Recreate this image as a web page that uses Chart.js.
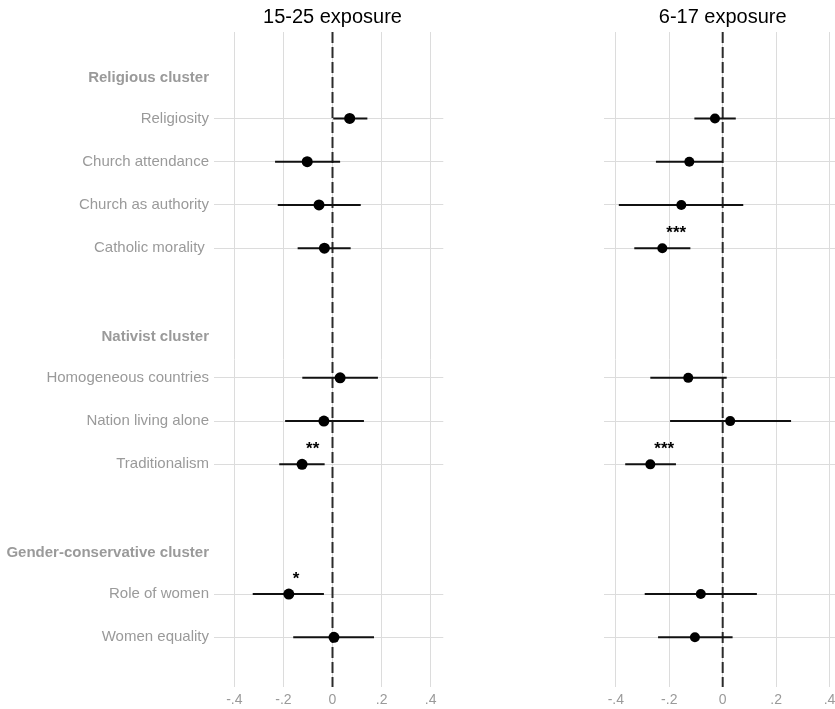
<!DOCTYPE html>
<html>
<head>
<meta charset="utf-8">
<script src="https://cdn.jsdelivr.net/npm/chart.js@4/dist/chart.umd.min.js"></script>
<style>
  html, body { margin: 0; padding: 0; background: #fff; overflow: hidden; }
  .panel { position: absolute; top: 0; height: 709px; }
</style>
</head>
<body>
<div class="panel" style="left:0;width:455px"><canvas id="left"></canvas></div>
<div class="panel" style="left:590px;width:260px"><canvas id="right"></canvas></div>
<script>
// Row layout of the y axis (top to bottom); blank strings are spacer rows
const rowLabels = [
  "Religious cluster", "Religiosity", "Church attendance", "Church as authority", "Catholic morality ",
  "",
  "Nativist cluster", "Homogeneous countries", "Nation living alone", "Traditionalism",
  "",
  "Gender-conservative cluster", "Role of women", "Women equality"
];
const clusterRows = ["Religious cluster", "Nativist cluster", "Gender-conservative cluster"];

// Outcome variables with estimates
const variables = [
  "Religiosity", "Church attendance", "Church as authority", "Catholic morality ",
  "Homogeneous countries", "Nation living alone", "Traditionalism",
  "Role of women", "Women equality"
];

// 15-25 exposure
const est1525 = [0.070, -0.103, -0.055, -0.033, 0.031, -0.035, -0.124, -0.178, 0.006];
const lo1525  = [0.003, -0.234, -0.223, -0.142, -0.123, -0.193, -0.217, -0.325, -0.160];
const hi1525  = [0.142, 0.031, 0.115, 0.074, 0.185, 0.128, -0.032, -0.035, 0.169];
const sig1525 = ["", "", "", "", "", "", "**", "*", ""];

// 6-17 exposure
const est617 = [-0.029, -0.125, -0.155, -0.226, -0.129, 0.028, -0.271, -0.082, -0.104];
const lo617  = [-0.106, -0.250, -0.389, -0.331, -0.271, -0.197, -0.365, -0.292, -0.242];
const hi617  = [0.049, 0.000, 0.077, -0.121, 0.015, 0.256, -0.175, 0.128, 0.037];
const sig617 = ["", "", "", "***", "", "", "***", "", ""];

const xTickValues = [-0.4, -0.2, 0, 0.2, 0.4];
const xTickLabels = ["-.4", "-.2", "0", ".2", ".4"];

const FONT = "'Liberation Sans', Arial, Helvetica, sans-serif";
Chart.defaults.font.family = FONT;

const rowOf = name => rowLabels.indexOf(name);
const isDataRow = v => Number.isInteger(v) && variables.includes(rowLabels[v]);
const isClusterRow = v => clusterRows.includes(rowLabels[Math.round(v)]);

function buildChart(canvasId, cfg) {
  const datasets = [];
  // dashed reference line at zero
  datasets.push({
    data: [{ x: 0, y: -1 }, { x: 0, y: 14.15 }],
    showLine: true, borderColor: '#2b2b2b', borderWidth: 2, borderDash: [11, 4],
    pointRadius: 0, order: 3
  });
  // confidence intervals
  variables.forEach((v, i) => {
    datasets.push({
      data: [{ x: cfg.lo[i], y: rowOf(v) }, { x: cfg.hi[i], y: rowOf(v) }],
      showLine: true, borderColor: '#111', borderWidth: 2, pointRadius: 0, order: 2
    });
  });
  // point estimates
  datasets.push({
    data: variables.map((v, i) => ({ x: cfg.est[i], y: rowOf(v) })),
    pointRadius: cfg.radius, pointBackgroundColor: '#000', pointBorderWidth: 0, order: 1
  });

  const annotate = {
    id: 'annotate',
    afterDatasetsDraw(chart) {
      const { ctx, scales: { x, y } } = chart;
      ctx.save();
      // significance stars
      ctx.fillStyle = '#000';
      ctx.font = 'bold 17px ' + FONT;
      ctx.textAlign = 'left';
      ctx.textBaseline = 'middle';
      variables.forEach((v, i) => {
        const s = cfg.sig[i];
        if (!s) return;
        ctx.fillText(s, x.getPixelForValue(cfg.est[i]) + 4, y.getPixelForValue(rowOf(v) - 0.34));
      });
      // panel title centred on zero
      ctx.font = '20px ' + FONT;
      ctx.textAlign = 'center';
      ctx.fillText(cfg.title, x.getPixelForValue(0), 17);
      ctx.restore();
    }
  };

  return new Chart(document.getElementById(canvasId), {
    type: 'scatter',
    data: { datasets },
    plugins: [annotate],
    options: {
      responsive: true,
      maintainAspectRatio: false,
      animation: false,
      events: [],
      layout: { padding: { top: 32, right: cfg.padRight, bottom: 0, left: 0 } },
      plugins: { legend: { display: false }, tooltip: { enabled: false }, title: { display: false } },
      scales: {
        x: {
          type: 'linear', min: cfg.xmin, max: cfg.xmax,
          border: { display: false },
          grid: { color: '#dcdcdc', lineWidth: 1, drawTicks: false },
          afterBuildTicks: s => { s.ticks = xTickValues.map(v => ({ value: v })); },
          afterFit: s => { s.height = 22; },
          ticks: {
            padding: 5, color: '#9a9a9a', font: { size: 14 },
            callback: v => xTickLabels[xTickValues.indexOf(v)] ?? ''
          }
        },
        y: {
          type: 'linear', reverse: true, min: -1, max: 14.15,
          border: { display: false },
          grid: {
            drawTicks: false, lineWidth: 1,
            color: c => (c.tick && isDataRow(c.tick.value)) ? '#dcdcdc' : 'rgba(0,0,0,0)'
          },
          // cluster headings sit a touch lower than their row centre
          afterBuildTicks: s => {
            s.ticks = rowLabels.map((_, i) => ({ value: isClusterRow(i) ? i + 0.055 : i }));
          },
          afterFit: s => { s.width = cfg.yWidth; },
          ticks: {
            display: cfg.showLabels, padding: 5, color: '#9a9a9a',
            font: c => ({ size: 15, weight: (c && c.tick && isClusterRow(c.tick.value)) ? 'bold' : 'normal' }),
            callback: v => rowLabels[Math.round(v)] ?? ''
          }
        }
      }
    }
  });
}

buildChart('left', {
  title: '15-25 exposure', est: est1525, lo: lo1525, hi: hi1525, sig: sig1525,
  xmin: -0.4827, xmax: 0.4513, yWidth: 214, padRight: 11.7, showLabels: true, radius: 5.5
});
buildChart('right', {
  title: '6-17 exposure', est: est617, lo: lo617, hi: hi617, sig: sig617,
  xmin: -0.4444, xmax: 0.4579, yWidth: 14, padRight: 5, showLabels: false, radius: 5
});
</script>
</body>
</html>
